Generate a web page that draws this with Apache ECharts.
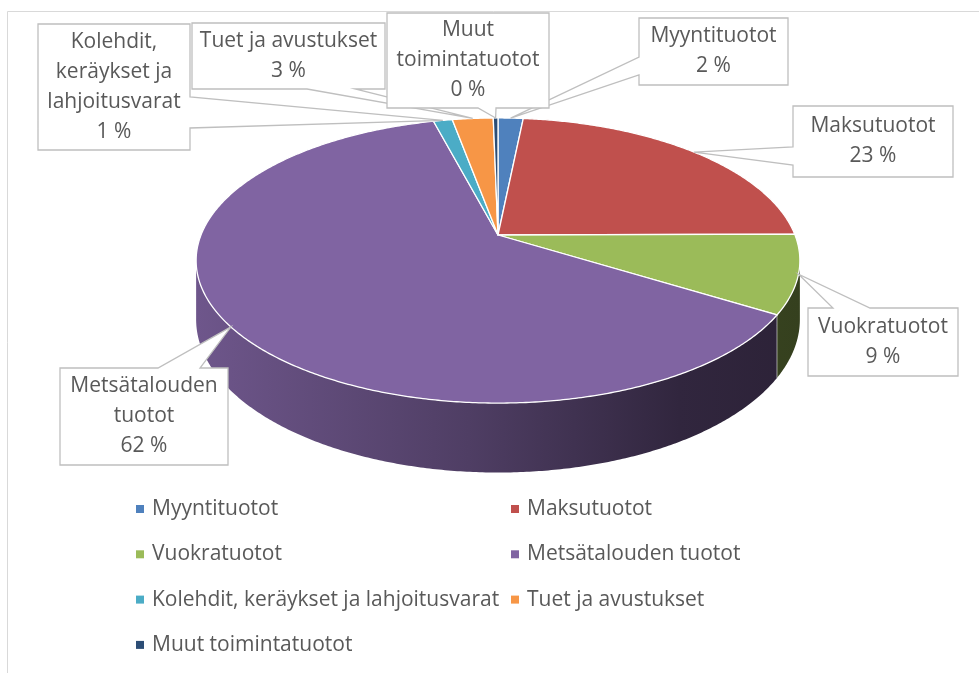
<!DOCTYPE html>
<html>
<head>
<meta charset="utf-8">
<script src="https://cdn.jsdelivr.net/npm/echarts@6/dist/echarts.min.js"></script>
<style>
html,body{margin:0;padding:0;background:#fff;}
#chart{width:979px;height:673px;}
</style>
</head>
<body>
<div id="chart"></div>
<script>
// ---- data ----
const categories = ['Myyntituotot','Maksutuotot','Vuokratuotot','Metsätalouden tuotot','Kolehdit, keräykset ja lahjoitusvarat','Tuet ja avustukset','Muut toimintatuotot'];
const values = [1.6, 23.3, 8.9, 62.1, 1.2, 2.6, 0.3];
const labelNames = ['Myyntituotot','Maksutuotot','Vuokratuotot','Metsätalouden\ntuotot','Kolehdit,\nkeräykset ja\nlahjoitusvarat','Tuet ja avustukset','Muut\ntoimintatuotot'];
const legendCol1 = [categories[0], categories[2], categories[4], categories[6]];
const legendCol2 = [categories[1], categories[3], categories[5]];

// ---- styling / layout ----
const colors = ['#4F81BD','#C0504D','#9BBB59','#8064A2','#4BACC6','#F79646','#2C4D75'];
// callout boxes: [x, y, w, h], edge of the pointer, pointer base positions
const callouts = [
  {box:[639,18,149,67], edge:'left', base:[57,75]},
  {box:[793,106,160,71], edge:'left', base:[147,165]},
  {box:[808,308,150,68], edge:'top', base:[833,870]},
  {box:[60,368,168,97], edge:'top', base:[158,200]},
  {box:[38,24,152,126], edge:'right', base:[97,128]},
  {box:[192,23,193,66], edge:'bottom', base:[307,355]},
  {box:[387,13,162,95], edge:'bottom', base:[478,496]}
];
const FONT = '"Open Sans", "Noto Sans", sans-serif';
const FS = 21;
const CX = 498, CY = 235, A = 138, B = 297, K = 0.179, H = 57;

const total = values.reduce((a,b)=>a+b,0);
const cum = [0];
values.forEach((v,i)=>cum.push(cum[i]+v));

function proj(phiDeg, h){
  const p = phiDeg*Math.PI/180;
  const d = -Math.cos(p);
  const w = 1 - K*d;
  return [CX + B*Math.sin(p)/w, CY + (A*d + h)/w];
}
function shade(hex, f){
  const n = parseInt(hex.slice(1),16);
  const r = Math.round(((n>>16)&255)*f), g = Math.round(((n>>8)&255)*f), b = Math.round((n&255)*f);
  return 'rgb('+r+','+g+','+b+')';
}
const phiR = Math.acos(-K)*180/Math.PI;      // right silhouette
const phiL = 360 - phiR;                      // left silhouette

function calloutPath(c, tip){
  const [x,y,w,h] = c.box; const [b1,b2] = c.base;
  let pts;
  if(c.edge==='left') pts=[[x,y],[x+w,y],[x+w,y+h],[x,y+h],[x,b2],tip,[x,b1]];
  else if(c.edge==='right') pts=[[x,y],[x+w,y],[x+w,b1],tip,[x+w,b2],[x+w,y+h],[x,y+h]];
  else if(c.edge==='top') pts=[[x,y],[b1,y],tip,[b2,y],[x+w,y],[x+w,y+h],[x,y+h]];
  else pts=[[x,y],[x+w,y],[x+w,y+h],[b2,y+h],tip,[b1,y+h],[x,y+h]];
  return pts;
}

function makeRender(i){
  return function(params, api){
    const v = api.value(0);
    const color = api.visual('color');
    const s = cum[i]/total*360, e = (cum[i]+v)/total*360;
    const children = [];
    // side wall
    const ws = Math.max(s, phiR), we = Math.min(e, phiL);
    if(we > ws){
      const pts = [];
      const n = Math.max(2, Math.ceil((we-ws)/0.5));
      for(let k=0;k<=n;k++) pts.push(proj(ws+(we-ws)*k/n, 0));
      for(let k=n;k>=0;k--) pts.push(proj(ws+(we-ws)*k/n, H));
      children.push({type:'polygon', z2:1, shape:{points:pts}, style:{
        fill:{type:'linear', x:197, y:0, x2:800, y2:0, global:true, colorStops:[
          {offset:0, color:shade(colors[i],0.86)},
          {offset:0.45, color:shade(colors[i],0.62)},
          {offset:0.8, color:shade(colors[i],0.38)},
          {offset:1, color:shade(colors[i],0.34)}]},
        stroke:null}});
      if(s > phiR && s < phiL){
        children.push({type:'line', z2:2, shape:{x1:proj(s,0)[0], y1:proj(s,0)[1], x2:proj(s,H)[0], y2:proj(s,H)[1]},
          style:{stroke:'rgba(255,255,255,0.55)', lineWidth:1}});
      }
    }
    // top face
    const top = [[CX,CY]];
    const n = Math.max(2, Math.ceil((e-s)/0.5));
    for(let k=0;k<=n;k++) top.push(proj(s+(e-s)*k/n, 0));
    children.push({type:'polygon', z2:5, shape:{points:top}, style:{fill:color, stroke:'#ffffff', lineWidth:1.3, lineJoin:'round'}});
    // callout label
    const c = callouts[i];
    const tip = proj((s+e)/2, 0);
    children.push({type:'polygon', z2:100+i*2, shape:{points:calloutPath(c, tip)},
      style:{fill:'#ffffff', stroke:'#bfbfbf', lineWidth:1.3}});
    const pct = Math.round(v/total*100) + ' %';
    children.push({type:'text', z2:101+i*2, style:{
      text: labelNames[i] + '\n' + pct,
      x: c.box[0]+c.box[2]/2, y: c.box[1]+c.box[3]/2,
      align:'center', verticalAlign:'middle',
      fill:'#595959', fontSize:FS, fontFamily:FONT, lineHeight:30}});
    return {type:'group', children};
  };
}

const series = categories.map((name,i)=>({
  type:'custom', name, coordinateSystem:'none',
  itemStyle:{color:colors[i]},
  data:[[values[i]]],
  renderItem: makeRender(i),
  silent:true, animation:false
}));

const legendBase = {
  orient:'vertical', icon:'rect', itemWidth:8, itemHeight:8, itemGap:19.3, padding:0,
  selectedMode:false,
  textStyle:{fontFamily:FONT, fontSize:FS, color:'#595959', lineHeight:26, padding:[0,0,0,3]}
};

const chart = echarts.init(document.getElementById('chart'), null, {renderer:'canvas'});
chart.setOption({
  backgroundColor:'#ffffff',
  animation:false,
  graphic:[{type:'rect', shape:{x:7.5, y:11.5, width:1000, height:700}, style:{fill:null, stroke:'#d9d9d9', lineWidth:1}, silent:true}],
  legend:[
    Object.assign({}, legendBase, {data:legendCol1, left:136, top:496}),
    Object.assign({}, legendBase, {data:legendCol2, left:511, top:496})
  ],
  series
});
</script>
</body>
</html>
